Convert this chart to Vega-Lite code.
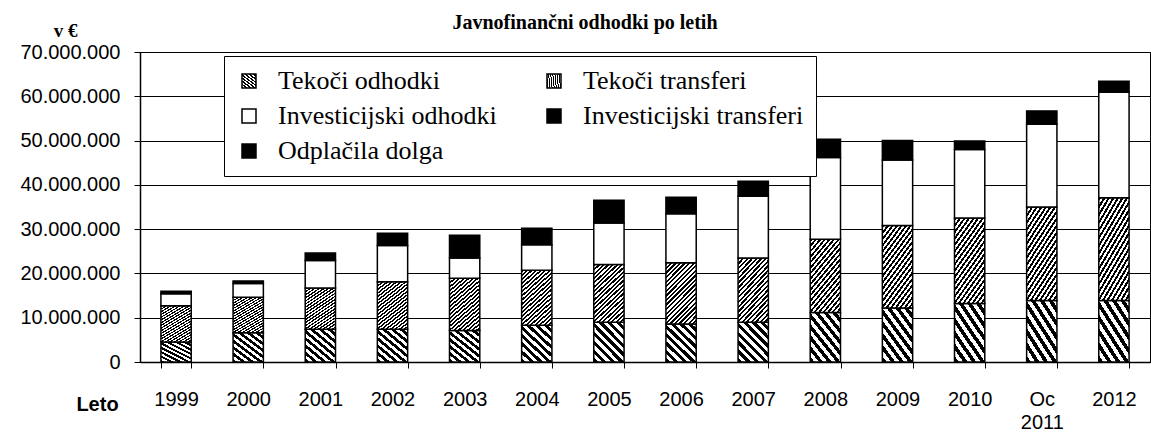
{
  "$schema": "https://vega.github.io/schema/vega-lite/v6.json",
  "autosize": "none",
  "width": 1010,
  "height": 310,
  "padding": {"left": 140, "top": 52, "right": 1, "bottom": 83},
  "background": "white",
  "params": [
    {"name": "gTO", "expr": "{gradient:'linear',x1:0,y1:1,x2:0.855,y2:-0.111,stops:[{offset:0,color:'#000'},{offset:0.0625,color:'#000'},{offset:0.0625,color:'#fff'},{offset:0.125,color:'#fff'},{offset:0.125,color:'#000'},{offset:0.1875,color:'#000'},{offset:0.1875,color:'#fff'},{offset:0.25,color:'#fff'},{offset:0.25,color:'#000'},{offset:0.3125,color:'#000'},{offset:0.3125,color:'#fff'},{offset:0.375,color:'#fff'},{offset:0.375,color:'#000'},{offset:0.4375,color:'#000'},{offset:0.4375,color:'#fff'},{offset:0.5,color:'#fff'},{offset:0.5,color:'#000'},{offset:0.5625,color:'#000'},{offset:0.5625,color:'#fff'},{offset:0.625,color:'#fff'},{offset:0.625,color:'#000'},{offset:0.6875,color:'#000'},{offset:0.6875,color:'#fff'},{offset:0.75,color:'#fff'},{offset:0.75,color:'#000'},{offset:0.8125,color:'#000'},{offset:0.8125,color:'#fff'},{offset:0.875,color:'#fff'},{offset:0.875,color:'#000'},{offset:0.9375,color:'#000'},{offset:0.9375,color:'#fff'},{offset:1,color:'#fff'}]}"},
    {"name": "gTT", "expr": "{gradient:'linear',x1:0,y1:0,x2:0.6,y2:1.2,stops:[{offset:0,color:'#000'},{offset:0.025,color:'#000'},{offset:0.025,color:'#fff'},{offset:0.05,color:'#fff'},{offset:0.05,color:'#000'},{offset:0.075,color:'#000'},{offset:0.075,color:'#fff'},{offset:0.1,color:'#fff'},{offset:0.1,color:'#000'},{offset:0.125,color:'#000'},{offset:0.125,color:'#fff'},{offset:0.15,color:'#fff'},{offset:0.15,color:'#000'},{offset:0.175,color:'#000'},{offset:0.175,color:'#fff'},{offset:0.2,color:'#fff'},{offset:0.2,color:'#000'},{offset:0.225,color:'#000'},{offset:0.225,color:'#fff'},{offset:0.25,color:'#fff'},{offset:0.25,color:'#000'},{offset:0.275,color:'#000'},{offset:0.275,color:'#fff'},{offset:0.3,color:'#fff'},{offset:0.3,color:'#000'},{offset:0.325,color:'#000'},{offset:0.325,color:'#fff'},{offset:0.35,color:'#fff'},{offset:0.35,color:'#000'},{offset:0.375,color:'#000'},{offset:0.375,color:'#fff'},{offset:0.4,color:'#fff'},{offset:0.4,color:'#000'},{offset:0.425,color:'#000'},{offset:0.425,color:'#fff'},{offset:0.45,color:'#fff'},{offset:0.45,color:'#000'},{offset:0.475,color:'#000'},{offset:0.475,color:'#fff'},{offset:0.5,color:'#fff'},{offset:0.5,color:'#000'},{offset:0.525,color:'#000'},{offset:0.525,color:'#fff'},{offset:0.55,color:'#fff'},{offset:0.55,color:'#000'},{offset:0.575,color:'#000'},{offset:0.575,color:'#fff'},{offset:0.6,color:'#fff'},{offset:0.6,color:'#000'},{offset:0.625,color:'#000'},{offset:0.625,color:'#fff'},{offset:0.65,color:'#fff'},{offset:0.65,color:'#000'},{offset:0.675,color:'#000'},{offset:0.675,color:'#fff'},{offset:0.7,color:'#fff'},{offset:0.7,color:'#000'},{offset:0.725,color:'#000'},{offset:0.725,color:'#fff'},{offset:0.75,color:'#fff'},{offset:0.75,color:'#000'},{offset:0.775,color:'#000'},{offset:0.775,color:'#fff'},{offset:0.8,color:'#fff'},{offset:0.8,color:'#000'},{offset:0.825,color:'#000'},{offset:0.825,color:'#fff'},{offset:0.85,color:'#fff'},{offset:0.85,color:'#000'},{offset:0.875,color:'#000'},{offset:0.875,color:'#fff'},{offset:0.9,color:'#fff'},{offset:0.9,color:'#000'},{offset:0.925,color:'#000'},{offset:0.925,color:'#fff'},{offset:0.95,color:'#fff'},{offset:0.95,color:'#000'},{offset:0.975,color:'#000'},{offset:0.975,color:'#fff'},{offset:1,color:'#fff'}]}"}
  ],
  "title": {"text": "Javnofinančni odhodki po letih", "font": "Liberation Serif", "fontSize": 20, "fontWeight": "bold", "color": "black", "anchor": "middle", "dx": -60, "dy": 24, "offset": 12},
  "data": {"values": [
    {"year": "1999", "series": "Tekoči odhodki", "value": 4500000, "ord": 1},
    {"year": "1999", "series": "Tekoči transferi", "value": 8200000, "ord": 2},
    {"year": "1999", "series": "Investicijski odhodki", "value": 2700000, "ord": 3},
    {"year": "1999", "series": "Investicijski transferi", "value": 600000, "ord": 4},
    {"year": "2000", "series": "Tekoči odhodki", "value": 6600000, "ord": 1},
    {"year": "2000", "series": "Tekoči transferi", "value": 8000000, "ord": 2},
    {"year": "2000", "series": "Investicijski odhodki", "value": 3100000, "ord": 3},
    {"year": "2000", "series": "Investicijski transferi", "value": 600000, "ord": 4},
    {"year": "2001", "series": "Tekoči odhodki", "value": 7400000, "ord": 1},
    {"year": "2001", "series": "Tekoči transferi", "value": 9300000, "ord": 2},
    {"year": "2001", "series": "Investicijski odhodki", "value": 6200000, "ord": 3},
    {"year": "2001", "series": "Investicijski transferi", "value": 1700000, "ord": 4},
    {"year": "2002", "series": "Tekoči odhodki", "value": 7400000, "ord": 1},
    {"year": "2002", "series": "Tekoči transferi", "value": 10700000, "ord": 2},
    {"year": "2002", "series": "Investicijski odhodki", "value": 8200000, "ord": 3},
    {"year": "2002", "series": "Investicijski transferi", "value": 2800000, "ord": 4},
    {"year": "2003", "series": "Tekoči odhodki", "value": 7100000, "ord": 1},
    {"year": "2003", "series": "Tekoči transferi", "value": 11800000, "ord": 2},
    {"year": "2003", "series": "Investicijski odhodki", "value": 4600000, "ord": 3},
    {"year": "2003", "series": "Investicijski transferi", "value": 5100000, "ord": 4},
    {"year": "2004", "series": "Tekoči odhodki", "value": 8300000, "ord": 1},
    {"year": "2004", "series": "Tekoči transferi", "value": 12400000, "ord": 2},
    {"year": "2004", "series": "Investicijski odhodki", "value": 5800000, "ord": 3},
    {"year": "2004", "series": "Investicijski transferi", "value": 3700000, "ord": 4},
    {"year": "2005", "series": "Tekoči odhodki", "value": 9000000, "ord": 1},
    {"year": "2005", "series": "Tekoči transferi", "value": 13000000, "ord": 2},
    {"year": "2005", "series": "Investicijski odhodki", "value": 9400000, "ord": 3},
    {"year": "2005", "series": "Investicijski transferi", "value": 5100000, "ord": 4},
    {"year": "2006", "series": "Tekoči odhodki", "value": 8600000, "ord": 1},
    {"year": "2006", "series": "Tekoči transferi", "value": 13800000, "ord": 2},
    {"year": "2006", "series": "Investicijski odhodki", "value": 11100000, "ord": 3},
    {"year": "2006", "series": "Investicijski transferi", "value": 3700000, "ord": 4},
    {"year": "2007", "series": "Tekoči odhodki", "value": 9000000, "ord": 1},
    {"year": "2007", "series": "Tekoči transferi", "value": 14500000, "ord": 2},
    {"year": "2007", "series": "Investicijski odhodki", "value": 13900000, "ord": 3},
    {"year": "2007", "series": "Investicijski transferi", "value": 3400000, "ord": 4},
    {"year": "2008", "series": "Tekoči odhodki", "value": 11200000, "ord": 1},
    {"year": "2008", "series": "Tekoči transferi", "value": 16500000, "ord": 2},
    {"year": "2008", "series": "Investicijski odhodki", "value": 18500000, "ord": 3},
    {"year": "2008", "series": "Investicijski transferi", "value": 4100000, "ord": 4},
    {"year": "2009", "series": "Tekoči odhodki", "value": 12200000, "ord": 1},
    {"year": "2009", "series": "Tekoči transferi", "value": 18600000, "ord": 2},
    {"year": "2009", "series": "Investicijski odhodki", "value": 14800000, "ord": 3},
    {"year": "2009", "series": "Investicijski transferi", "value": 4400000, "ord": 4},
    {"year": "2010", "series": "Tekoči odhodki", "value": 13200000, "ord": 1},
    {"year": "2010", "series": "Tekoči transferi", "value": 19300000, "ord": 2},
    {"year": "2010", "series": "Investicijski odhodki", "value": 15500000, "ord": 3},
    {"year": "2010", "series": "Investicijski transferi", "value": 1900000, "ord": 4},
    {"year": "Oc 2011", "series": "Tekoči odhodki", "value": 13900000, "ord": 1},
    {"year": "Oc 2011", "series": "Tekoči transferi", "value": 21100000, "ord": 2},
    {"year": "Oc 2011", "series": "Investicijski odhodki", "value": 18700000, "ord": 3},
    {"year": "Oc 2011", "series": "Investicijski transferi", "value": 3000000, "ord": 4},
    {"year": "2012", "series": "Tekoči odhodki", "value": 13900000, "ord": 1},
    {"year": "2012", "series": "Tekoči transferi", "value": 23200000, "ord": 2},
    {"year": "2012", "series": "Investicijski odhodki", "value": 23800000, "ord": 3},
    {"year": "2012", "series": "Investicijski transferi", "value": 2500000, "ord": 4}
  ]},
  "mark": {"type": "bar", "stroke": "black", "strokeWidth": 1.5, "opacity": 1},
  "encoding": {
    "x": {
      "field": "year", "type": "nominal",
      "sort": ["1999", "2000", "2001", "2002", "2003", "2004", "2005", "2006", "2007", "2008", "2009", "2010", "Oc 2011", "2012"],
      "scale": {"paddingInner": 0.58, "paddingOuter": 0.29},
      "axis": {
        "title": "Leto", "titleFont": "Liberation Sans", "titleFontSize": 20, "titleFontWeight": "bold", "titleColor": "black",
        "titleX": -43, "titleY": 42, "titleAlign": "center", "titleBaseline": "middle", "titleAnchor": null,
        "labelAngle": 0, "labelFont": "Liberation Sans", "labelFontSize": 20, "labelColor": "black", "labelPadding": 21,
        "labelExpr": "split(datum.label, ' ')", "labelLineHeight": 23, "labelBaseline": "top",
        "tickBand": "extent", "tickSize": 6, "tickColor": "black", "domainColor": "black", "domainWidth": 1.5, "grid": false
      }
    },
    "y": {
      "field": "value", "type": "quantitative", "stack": "zero",
      "scale": {"domain": [0, 70000000], "nice": false},
      "axis": {
        "title": "v €", "titleFont": "Liberation Serif", "titleFontSize": 19, "titleFontWeight": "bold", "titleColor": "black",
        "titleAngle": 0, "titleX": -75, "titleY": -22, "titleAlign": "center", "titleBaseline": "middle",
        "values": [0, 10000000, 20000000, 30000000, 40000000, 50000000, 60000000, 70000000],
        "format": ",d",
        "labelExpr": "replace(replace(replace(datum.label, ',', '.'), ',', '.'), ',', '.')",
        "labelFont": "Liberation Sans", "labelFontSize": 20, "labelColor": "black", "labelPadding": 14,
        "tickSize": 6, "tickColor": "black", "domainColor": "black", "domainWidth": 1.5,
        "grid": true, "gridColor": "black", "gridWidth": 1, "gridOpacity": 1
      }
    },
    "color": {
      "field": "series", "type": "nominal",
      "scale": {
        "domain": ["Tekoči odhodki", "Investicijski odhodki", "Odplačila dolga", "Tekoči transferi", "Investicijski transferi"],
        "range": [{"expr": "gTO"}, "#ffffff", "#000000", {"expr": "gTT"}, "#000000"]
      },
      "legend": {
        "title": null, "orient": "none", "legendX": 84, "legendY": 4, "columns": 2, "direction": "vertical",
        "symbolType": "square", "symbolSize": 196, "symbolStrokeColor": "black", "symbolStrokeWidth": 1.5, "symbolOpacity": 1,
        "labelFont": "Liberation Serif", "labelFontSize": 26, "labelColor": "black", "labelLimit": 400, "labelOffset": 16,
        "rowPadding": 9, "columnPadding": 44, "padding": 12, "fillColor": "white", "strokeColor": "black"
      }
    },
    "order": {"field": "ord", "type": "quantitative"}
  },
  "config": {
    "view": {"stroke": "black", "strokeWidth": 1}
  }
}
